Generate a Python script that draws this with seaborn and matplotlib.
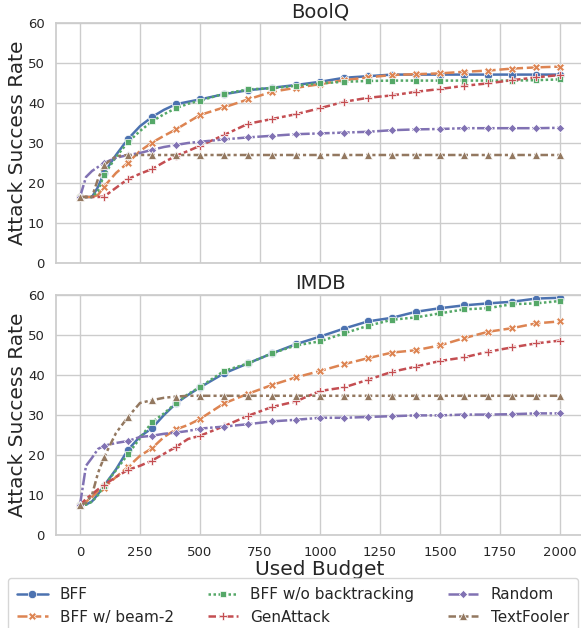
import matplotlib
matplotlib.use("Agg")
import matplotlib.pyplot as plt
import seaborn as sns
import pandas as pd

budget = [0, 25, 50, 75, 100, 150, 200, 250, 300, 350, 400, 450, 500, 600, 700, 800,
          900, 1000, 1100, 1200, 1300, 1400, 1500, 1600, 1700, 1800, 1900, 2000]
methods = ["BFF", "BFF w/ beam-2", "BFF w/o backtracking", "GenAttack", "Random", "TextFooler"]
datasets = ["BoolQ", "IMDB"]

boolq_bff = [16.5, 16.5, 16.5, 19, 22.5, 27, 31, 34.2, 36.5, 38.3, 39.7, 40.3, 40.9, 42.2, 43.2, 43.8,
             44.5, 45.3, 46.3, 46.7, 47.1, 47.1, 47.1, 47.1, 47.1, 47.1, 47.1, 47.1]
boolq_beam2 = [16.5, 16.5, 16.5, 17, 19.1, 22.5, 25.1, 28, 30.1, 31.8, 33.4, 35.2, 37, 38.9, 40.9, 42.8,
               43.8, 44.7, 45.7, 46.4, 47, 47.2, 47.4, 47.8, 48.1, 48.6, 48.9, 49.1]
boolq_nobt = [16.5, 16.5, 16.5, 18, 22, 26.5, 30.2, 33, 35.4, 37.2, 38.7, 39.8, 40.6, 42.3, 43.4, 43.7,
              44.3, 44.9, 45.3, 45.5, 45.6, 45.6, 45.6, 45.6, 45.6, 45.6, 45.7, 45.9]
boolq_gen = [16.5, 16.5, 16.5, 16.5, 16.6, 18.8, 21, 22.3, 23.5, 25.2, 26.8, 28, 29.3, 32, 34.8, 36,
             37.2, 38.7, 40.3, 41.3, 41.9, 42.8, 43.5, 44.3, 44.9, 45.7, 46.4, 47]
boolq_rand = [16.5, 21.5, 23, 24, 25, 26.3, 27, 27.5, 28.3, 29, 29.5, 30, 30.3, 30.9, 31.4, 31.8,
              32.2, 32.4, 32.6, 32.8, 33.2, 33.4, 33.5, 33.7, 33.7, 33.7, 33.7, 33.8]
boolq_tf = [16.5, 16.5, 16.5, 21, 24.5, 26.7, 27, 27, 27, 27, 27, 27, 27, 27, 27, 27,
            27, 27, 27, 27, 27, 27, 27, 27, 27, 27, 27, 27]

imdb_bff = [7.5, 7.6, 8.4, 10.2, 12.3, 16.4, 21.3, 24.6, 26.7, 30, 32.9, 35, 36.9, 40.4, 42.9, 45.4,
            47.7, 49.6, 51.6, 53.4, 54.3, 55.8, 56.7, 57.4, 57.9, 58.3, 59.1, 59.3]
imdb_beam2 = [7.5, 8.3, 9.5, 11, 11.8, 14.5, 17, 19.8, 21.7, 24.5, 26.4, 27.5, 29, 32.9, 35.3, 37.5,
              39.4, 41, 42.7, 44.2, 45.6, 46.2, 47.4, 49.2, 50.8, 51.7, 52.9, 53.4]
imdb_nobt = [7.5, 7.6, 8.3, 10, 12.2, 16.2, 20.2, 24.2, 28.2, 30.4, 33, 35.2, 37, 41, 42.9, 45.4,
             47.4, 48.4, 50.4, 52.3, 53.8, 54.4, 55.4, 56.4, 56.7, 57.7, 57.9, 58.5]
imdb_gen = [7.5, 9, 10.2, 11.4, 12.5, 14.5, 16.3, 17.3, 18.6, 20.3, 22, 24, 24.8, 27.2, 29.8, 32,
            33.4, 36, 36.9, 38.8, 40.8, 42.1, 43.5, 44.4, 45.8, 46.9, 47.9, 48.6]
imdb_rand = [7.5, 17.3, 19.3, 21.5, 22.3, 23, 23.5, 24.5, 24.8, 25.3, 25.6, 26, 26.6, 27.1, 27.7, 28.4,
             28.8, 29.3, 29.3, 29.5, 29.7, 29.9, 29.9, 30.1, 30.1, 30.2, 30.4, 30.4]
imdb_tf = [7.5, 8, 10, 15.5, 19.4, 25.5, 29.5, 33, 33.7, 34.3, 34.6, 34.8, 34.8, 34.8, 34.8, 34.8,
           34.8, 34.8, 34.8, 34.8, 34.8, 34.8, 34.8, 34.8, 34.8, 34.8, 34.8, 34.8]

series = {
    "BoolQ": [boolq_bff, boolq_beam2, boolq_nobt, boolq_gen, boolq_rand, boolq_tf],
    "IMDB": [imdb_bff, imdb_beam2, imdb_nobt, imdb_gen, imdb_rand, imdb_tf],
}

sns.set_theme(style="whitegrid", palette="deep")
plt.rcParams["font.family"] = ["DejaVu Sans"]

marker_map = {"BFF": "o", "BFF w/ beam-2": "X", "BFF w/o backtracking": (4, 0, 45),
              "GenAttack": "P", "Random": (4, 0, 0), "TextFooler": "^"}
mark_idx = [i for i, b in enumerate(budget) if b % 100 == 0]

fig = plt.figure(figsize=(5.81, 6.28), dpi=100)
axes = [fig.add_axes([56 / 581, 0.5812, 528 / 581, 0.3822]),
        fig.add_axes([56 / 581, 0.1481, 528 / 581, 0.3822])]

handles, labels = None, None
for ax, ds in zip(axes, datasets):
    rows = []
    for m, vals in zip(methods, series[ds]):
        for b, v in zip(budget, vals):
            rows.append({"Used Budget": b, "Attack Success Rate": v, "Method": m})
    df = pd.DataFrame(rows)
    sns.lineplot(data=df, x="Used Budget", y="Attack Success Rate", hue="Method",
                 style="Method", hue_order=methods, style_order=methods,
                 markers=marker_map, dashes=True, linewidth=1.8, markersize=6,
                 markeredgewidth=0.5, ax=ax)
    for ln in ax.lines:
        if len(ln.get_xdata()) == len(budget):
            ln.set_markevery(mark_idx)
    h, l = ax.get_legend_handles_labels()
    handles, labels = h, l
    if ax.get_legend() is not None:
        ax.get_legend().remove()
    ax.set_title(ds, fontsize=14, pad=4)
    ax.set_ylim(0, 60)
    ax.set_xlim(-100, 2100)
    ax.set_yticks(range(0, 61, 10))
    ax.set_xticks(range(0, 2001, 250))
    ax.tick_params(labelsize=9.5, pad=2)
    ax.set_ylabel("Attack Success Rate", fontsize=14.5, labelpad=1)

axes[0].set_xlabel("")
axes[0].set_xticklabels([])
axes[1].set_xlabel("Used Budget", fontsize=14.5, labelpad=0.5)

for h in handles:
    try:
        h.set_linewidth(1.8)
        h.set_markersize(6)
        h.set_markeredgewidth(0.5)
    except Exception:
        pass

fig.legend(handles, labels, ncol=3, loc="upper left", mode="expand",
           bbox_to_anchor=(8 / 581, 0, 570 / 581, 1 - 578 / 628),
           fontsize=11, frameon=True, borderaxespad=0, handlelength=2.0,
           labelspacing=0.5, borderpad=0.6)

fig.savefig("out.png", dpi=100)
